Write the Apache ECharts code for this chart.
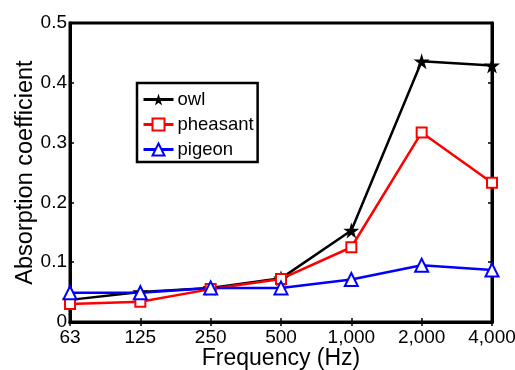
<!DOCTYPE html>
<html>
<head>
<meta charset="utf-8">
<script src="https://cdn.jsdelivr.net/npm/echarts@6/dist/echarts.min.js"></script>
<style>
  html, body { margin: 0; padding: 0; background: #fff; }
  #chart { width: 515px; height: 370px; }
</style>
</head>
<body>
<div id="chart"></div>
<script>
const frequencies = ['63', '125', '250', '500', '1,000', '2,000', '4,000'];
const owl = [0.037, 0.050, 0.057, 0.073, 0.153, 0.436, 0.429];
const pheasant = [0.030, 0.034, 0.055, 0.072, 0.125, 0.317, 0.233];
const pigeon = [0.049, 0.049, 0.057, 0.057, 0.071, 0.095, 0.087];
const yTicks = [0, 0.1, 0.2, 0.3, 0.4, 0.5];

const FONT = '"Liberation Sans", Arial, sans-serif';
const starPath = 'path://M50,0 L61,35 L98,35 L68,57 L79,91 L50,70 L21,91 L32,57 L2,35 L39,35 Z';

const chart = echarts.init(document.getElementById('chart'), null, { renderer: 'canvas' });

const lineSeries = (name, data, color, symbol, size) => ({
  name,
  type: 'line',
  data,
  symbol,
  symbolSize: size,
  showAllSymbol: true,
  lineStyle: { color, width: 2.5 },
  itemStyle: { color, borderColor: color, borderWidth: symbol.startsWith('empty') ? 2 : 0 },
  emphasis: { disabled: true },
  z: 3,
});

const option = {
  backgroundColor: '#fff',
  animation: false,
  textStyle: { fontFamily: FONT },
  grid: {
    left: 70, right: 23, top: 23, bottom: 48,
    outerBoundsMode: 'none',
    containLabel: false,
    show: true, borderColor: '#000', borderWidth: 3, backgroundColor: 'transparent',
  },
  legend: {
    orient: 'vertical',
    left: 137,
    top: 83,
    padding: [7, 4, 3, 5],
    itemGap: 6,
    itemWidth: 30,
    itemHeight: 15,
    borderColor: '#000',
    borderWidth: 2.5,
    backgroundColor: '#fff',
    lineStyle: { width: 3 },
    textStyle: { fontSize: 18.5, color: '#000', fontFamily: FONT, padding: [0, 0, 0, -1] },
    data: ['owl', 'pheasant', 'pigeon'],
  },
  xAxis: [
    {
      type: 'category',
      data: frequencies,
      boundaryGap: false,
      name: 'Frequency (Hz)',
      nameLocation: 'middle',
      nameMoveOverlap: false,
      nameGap: 25,
      nameTextStyle: { fontSize: 23, color: '#000', fontFamily: FONT },
      axisLine: { lineStyle: { color: '#000', width: 3 } },
      axisTick: { inside: true, length: 4, lineStyle: { color: '#000', width: 1.5 } },
      axisLabel: { fontSize: 19, color: '#000', margin: 6, fontFamily: FONT, interval: 0 },
      splitLine: { show: false },
    },
    {
      type: 'category',
      data: frequencies,
      boundaryGap: false,
      position: 'top',
      axisLine: { lineStyle: { color: '#000', width: 3 } },
      axisTick: { inside: true, length: 4, lineStyle: { color: '#000', width: 1.5 } },
      axisLabel: { show: false },
      splitLine: { show: false },
    },
  ],
  yAxis: [
    {
      type: 'value',
      min: 0,
      max: 0.5,
      interval: 0.1,
      name: 'Absorption coefficient',
      nameLocation: 'middle',
      nameMoveOverlap: false,
      nameGap: 32,
      nameTextStyle: { fontSize: 23.5, color: '#000', fontFamily: FONT },
      axisLine: { show: true, lineStyle: { color: '#000', width: 3 } },
      axisTick: { show: true, inside: true, length: 4, lineStyle: { color: '#000', width: 1.5 } },
      axisLabel: {
        fontSize: 19, color: '#000', margin: 3, fontFamily: FONT,
        formatter: v => {
          const t = yTicks.find(k => Math.abs(k - v) < 1e-9);
          return t === 0 ? '0' : String(t);
        },
      },
      splitLine: { show: false },
    },
    {
      type: 'value',
      min: 0,
      max: 0.5,
      interval: 0.1,
      position: 'right',
      axisLine: { show: true, lineStyle: { color: '#000', width: 3 } },
      axisTick: { show: true, inside: true, length: 4, lineStyle: { color: '#000', width: 1.5 } },
      axisLabel: { show: false },
      splitLine: { show: false },
    },
  ],
  series: [
    lineSeries('owl', owl, '#000000', starPath, 16),
    lineSeries('pheasant', pheasant, '#ff0000', 'emptyRect', 10),
    lineSeries('pigeon', pigeon, '#0000ff', 'emptyTriangle', 13),
  ],
};

chart.setOption(option);
</script>
</body>
</html>
